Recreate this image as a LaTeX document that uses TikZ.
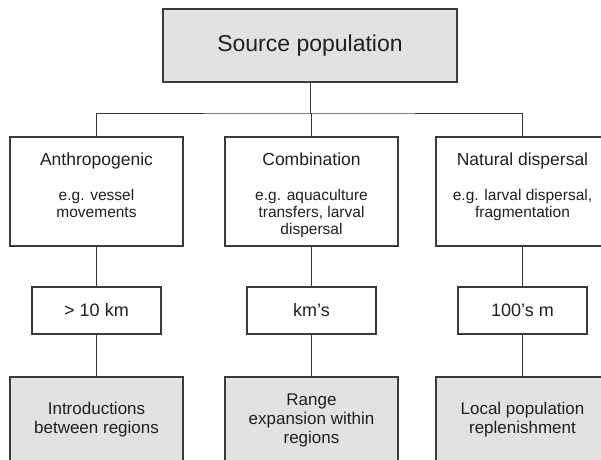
\documentclass[tikz,border=0pt]{standalone}
\usepackage{fontspec}
\setmainfont{Liberation Sans}
\usetikzlibrary{positioning}
\definecolor{boxgray}{HTML}{E2E2E2}
\definecolor{linegray}{HTML}{3A3A3A}
\definecolor{inkgray}{HTML}{202020}
\begin{document}
\begin{tikzpicture}[x=1pt,y=1pt,
		srcbox/.style={draw=linegray,line width=1.8pt,fill=boxgray,minimum width=294pt,minimum height=73pt,font=\fontsize{23}{26}\selectfont},
		catbox/.style={draw=linegray,line width=1.3pt,fill=white,minimum width=173pt,minimum height=109pt},
		distbox/.style={draw=linegray,line width=1.3pt,fill=white,minimum width=129pt,minimum height=47pt,font=\fontsize{18}{20}\selectfont},
		outbox/.style={draw=linegray,line width=1.3pt,fill=boxgray,minimum width=173pt,minimum height=86pt,align=center,font=\fontsize{17}{19}\selectfont},
		head/.style={font=\fontsize{17.5}{20}\selectfont},
		note/.style={align=center,font=\fontsize{15.5}{17}\selectfont},
		link/.style={draw=linegray,line width=1pt}]
		\tikzstyle{every node}+=[inner sep=0pt,text=inkgray]
		\clip (0,0) rectangle (601,-459);
		\node[srcbox] (src) at (310,-45.5) {Source population};
		\coordinate (split) at (310,-113);
		\node[catbox] (anth) at (96.5,-191.5) {};
		\node[catbox] (comb) at (311.5,-191.5) {};
		\node[catbox] (nat) at (522.5,-191.5) {};
		\node[head,below=16pt of anth.north] (anthhead) {Anthropogenic};
		\node[note,below=52.5pt of anth.north] (anthnote) {e.g. vessel\\movements};
		\node[head,below=16pt of comb.north] (combhead) {Combination};
		\node[note,below=52.5pt of comb.north] (combnote) {e.g. aquaculture\\transfers, larval\\dispersal};
		\node[head,below=16pt of nat.north] (nathead) {Natural dispersal};
		\node[note,below=52.5pt of nat.north] (natnote) {e.g. larval dispersal,\\fragmentation};
		\node[distbox] (far) at (96.5,-310.5) {> 10 km};
		\node[distbox] (mid) at (311.5,-310.5) {km's};
		\node[distbox] (near) at (522.5,-310.5) {100's m};
		\node[outbox] (intro) at (96.5,-420) {Introductions\\between regions};
		\node[outbox] (range) at (311.5,-420) {Range\\expansion within\\regions};
		\node[outbox] (local) at (522.5,-420) {Local population\\replenishment};
		\draw[link] (src.south) -- (split);
		\draw[link] (anth.north) |- (split) -| (nat.north);
		\draw[link] (split) -| (comb.north);
		\draw[link] (anth) -- (far);
		\draw[link] (comb) -- (mid);
		\draw[link] (nat) -- (near);
		\draw[link] (far) -- (intro);
		\draw[link] (mid) -- (range);
		\draw[link] (near) -- (local);
\end{tikzpicture}
\end{document}
